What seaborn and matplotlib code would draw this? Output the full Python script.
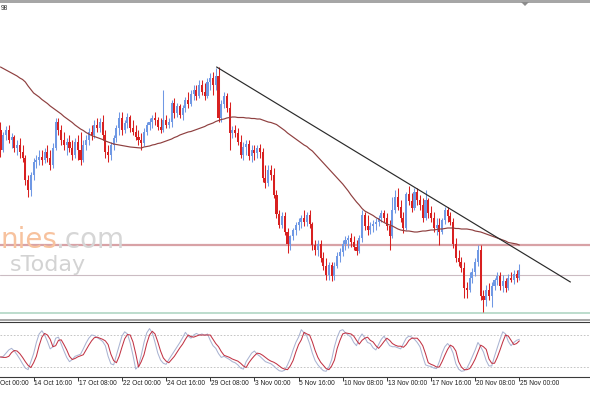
import numpy as np
import pandas as pd
import seaborn as sns
import matplotlib
matplotlib.use("Agg")
import matplotlib.pyplot as plt
from matplotlib.patches import Rectangle, Polygon
from matplotlib.transforms import blended_transform_factory

# ---------------- data (H4 candles, arbitrary price points) ----------------
opens = [200,180,195,200,190,193,182,185,178,172,
         150,140,155,168,170,173,170,178,172,165,
         182,208,200,190,185,188,182,175,188,180,
         170,185,190,198,195,205,202,208,195,178,
         175,185,192,202,212,200,207,213,202,198,
         193,190,187,198,205,208,212,210,203,200,
         210,205,208,227,217,224,215,222,230,226,
         236,240,234,245,238,234,248,252,245,254,
         212,226,234,222,197,200,197,188,175,183,
         186,174,180,177,182,178,152,147,160,155,
         135,116,105,114,98,86,94,100,105,108,
         112,108,115,106,85,80,86,72,64,55,
         65,54,64,74,78,86,90,92,88,83,
         79,92,115,104,100,104,106,108,112,117,
         112,104,94,120,133,123,112,102,136,129,
         122,138,130,125,112,130,117,112,102,105,
         98,110,120,114,108,86,72,68,62,42,
         40,52,58,68,80,34,30,40,34,44,
         50,54,44,49,42,52,50,56,52]
highs = [208,198,204,205,197,195,190,192,185,175,
         155,158,172,175,180,180,182,185,180,187,
         212,212,205,198,192,195,190,192,195,198,
         190,195,202,205,210,212,212,215,200,185,
         188,195,205,218,218,210,217,215,210,205,
         200,197,202,208,212,215,218,213,212,240,
         215,212,230,232,227,226,225,233,238,240,
         245,245,250,250,247,252,257,258,262,263,
         230,238,237,228,204,205,202,195,188,190,
         190,185,185,185,186,182,165,165,165,162,
         140,120,118,118,102,95,102,108,112,115,
         120,118,120,108,90,90,90,78,72,68,
         68,68,78,82,90,94,95,97,94,90,
         95,120,118,115,108,110,112,115,120,120,
         117,110,133,140,142,130,118,138,144,137,
         142,142,135,132,140,132,124,118,112,112,
         112,123,123,118,112,92,80,73,68,48,
         58,62,72,85,85,40,45,47,48,52,
         58,58,55,52,56,58,60,60,66]
lows = [173,178,190,187,182,178,175,172,168,145,
        133,134,150,162,165,165,167,168,160,162,
        180,195,185,180,175,178,170,172,170,165,
        168,180,185,190,192,198,198,190,172,168,
        170,180,188,195,195,197,202,198,195,190,
        185,180,184,195,200,202,205,200,197,198,
        202,202,203,212,213,212,210,218,222,224,
        230,230,232,235,230,232,240,235,240,208,
        208,222,218,180,192,193,185,172,170,175,
        170,168,170,172,172,148,142,144,150,132,
        112,102,102,95,77,80,90,95,100,102,
        104,104,102,80,75,74,68,60,50,50,
        49,50,62,68,74,80,82,83,80,75,
        77,88,100,95,96,98,100,104,108,108,
        100,80,92,117,120,108,97,100,125,118,
        120,125,120,108,110,112,108,98,95,85,
        96,106,108,105,82,68,64,58,32,32,
        38,47,54,64,30,18,24,30,23,40,
        45,40,38,38,40,48,46,48,50]
closes = [180,195,200,190,193,182,185,178,172,150,
          140,155,168,170,173,170,178,172,165,182,
          208,200,190,185,188,182,175,188,180,170,
          185,190,198,195,205,202,208,195,178,175,
          185,192,202,212,200,207,213,202,198,193,
          190,187,198,205,208,212,210,203,200,210,
          205,208,227,217,224,215,222,230,226,236,
          240,234,245,238,234,248,252,245,254,212,
          226,234,222,197,200,197,188,175,183,186,
          174,180,177,182,178,152,147,160,155,135,
          116,105,114,98,86,94,100,105,108,112,
          108,115,106,85,80,86,72,64,55,65,
          54,64,74,78,86,90,92,88,83,79,
          92,115,104,100,104,106,108,112,117,112,
          104,94,120,133,123,112,102,136,129,122,
          138,130,125,112,130,117,112,102,105,98,
          110,120,114,108,86,72,68,62,42,40,
          52,58,68,80,34,30,40,34,44,50,
          54,44,49,42,52,50,56,52,60]
moving_avg = [263,261.5,260,258.5,257,255.5,254,252,250.5,248,
              244,240.5,237,235,233,230.5,228.5,226.5,224,222,
              220,218,216,213.5,211.5,209.5,207.5,205,203,201,
              199.5,197.5,196,194.5,193.5,192.5,191.5,190.5,189,188,
              187,186,185.5,185,184.5,184,183.5,183,182.7,182.5,
              182.2,182,183,183.5,184,185,185.5,186.5,187,188,
              189,190,191,192.5,193.5,195,196,197,198,198.5,
              199.5,200.5,201.5,202.5,203.5,205,206,207,208.5,209.5,
              210.5,211,212,212.5,213,213,212.5,212.5,212.5,212,
              212,211.5,211.5,211,211,210,209,208,207.5,206.5,
              205.5,203.5,201.5,199.5,197,195,193,191,189,187,
              185,183.5,181,179,176,173,170,167,164,161,
              158,155,152,149,146,142.5,139,135,131.5,128,
              125,121.5,119,117.5,116,114.5,112.5,111,109,107.5,
              106,105,104,102.5,101,100,99.5,99,99,98.5,
              98,98,98.5,99,99,99.5,100,100,100.5,101,
              101,101.5,102,102,102,101.5,101.5,101,101,101,
              100.5,100,99,98.5,98,97,96,95,94,93,
              92,91,90,89,87.5,87,86.5,86,85]
stoch_d = [39,38,38,40,47,51,50,45,38,30,
           23,19,28,40,60,76,83,80,72,58,
           60,70,71,62,52,40,34,36,39,41,
           43,52,61,69,75,76,74,72,69,62,
           44,32,28,40,57,73,81,80,67,45,
           20,30,43,64,80,87,82,67,50,37,
           31,28,34,40,48,56,63,72,80,77,
           76,78,80,80,80,80,80,72,64,58,
           49,42,40,38,35,33,31,27,22,19,
           28,35,41,46,45,42,38,34,31,29,
           26,22,18,16,15,22,32,48,62,71,
           85,82,80,67,51,38,29,23,17,15,
           22,33,55,70,82,84,83,82,78,70,
           63,70,74,76,70,67,60,55,61,68,
           74,70,64,61,59,59,57,62,70,74,
           74,74,68,60,45,28,25,23,20,20,
           30,42,53,61,58,50,30,20,15,15,
           17,25,35,48,61,58,53,35,27,27,
           38,52,67,80,78,70,62,64,69]
stoch_k = [38,40,46,52,55,50,43,35,26,18,
           15,30,45,66,82,88,80,68,54,58,
           74,76,63,50,38,30,34,40,42,44,
           54,65,74,80,79,75,72,68,60,40,
           26,24,42,60,78,86,82,65,42,16,
           22,42,66,84,92,84,66,46,33,27,
           25,34,42,50,58,66,75,85,78,74,
           80,83,80,82,79,82,70,60,55,45,
           38,40,37,34,30,28,24,18,16,30,
           38,46,50,44,40,35,30,28,26,22,
           17,13,12,14,24,36,52,66,76,90,
           84,78,64,46,32,24,18,13,12,20,
           34,58,76,88,90,84,80,76,66,60,
           74,82,75,66,64,56,52,62,72,78,
           68,60,58,58,56,54,64,74,78,76,
           72,66,58,40,24,22,21,18,17,30,
           46,58,64,58,46,26,16,12,13,18,
           28,40,52,66,58,48,32,22,22,40,
           56,72,86,82,68,60,66,70,72]
trend_bars = [78.3, 206.5]
trend_prices = [263, 48]
resistance_level = 85
mid_level = 55
support_level = 17
stoch_levels = [80, 20]
tick_bars = [12, 28, 44, 60, 76, 92, 108, 124, 140, 156, 172, 188]
tick_labels = ["14 Oct 16:00", "17 Oct 08:00", "22 Oct 00:00",
               "24 Oct 16:00", "29 Oct 08:00", "3 Nov 00:00", "5 Nov 16:00",
               "10 Nov 08:00", "13 Nov 00:00", "17 Nov 16:00", "20 Nov 08:00",
               "25 Nov 00:00"]
first_label = "Oct 00:00"   # partially visible first date label

# ---------------- styling ----------------
sns.set_theme(style="white")
plt.rcParams["font.family"] = ["Liberation Sans", "DejaVu Sans"]

BLUE = "#6f98e4"
RED = "#d82020"
W, H = 590, 393

fig = plt.figure(figsize=(W / 100, H / 100), dpi=100)
fig.patch.set_facecolor("white")

def fy(y):
    return 1 - y / H

XLIM = (-0.18, 213.6)

# main price panel (y 3 .. 318 px)
ax = fig.add_axes([0, fy(318), 1, (318 - 3) / H])
ax.set_facecolor("white")
ax.set_xlim(*XLIM)
ax.set_ylim(12, 327)
for s in ax.spines.values():
    s.set_visible(False)
ax.set_xticks([])
ax.set_yticks([])

df = pd.DataFrame({"bar": np.arange(len(closes)), "open": opens, "high": highs,
                   "low": lows, "close": closes, "ma": moving_avg,
                   "k": stoch_k, "d": stoch_d})
up = df["close"] >= df["open"]
cols = np.where(up, BLUE, RED)

# horizontal levels
ax.axhline(resistance_level, color="#d8a2a6", lw=1.6, zorder=1)
ax.axhline(mid_level, color="#cbbcc3", lw=0.8, zorder=1)
ax.axhline(support_level, color="#b7dac9", lw=1.3, zorder=1)

# candles
ax.vlines(df["bar"], df["low"], df["high"], colors=cols, lw=0.75, zorder=3)
body = df["close"] - df["open"]
body = np.where(np.abs(body) < 1, 1, body)
ax.bar(df["bar"], body, bottom=df["open"], width=0.75, color=cols,
       linewidth=0, zorder=4)

# moving average and trend line
sns.lineplot(x=df["bar"], y=df["ma"], ax=ax, color="#8e3f3f", lw=0.85, zorder=5)
sns.lineplot(x=trend_bars, y=trend_prices, ax=ax, color="#2a2a2a", lw=0.85, zorder=5)
ax.set_xlabel("")
ax.set_ylabel("")

# watermark
fig.text(0.5 / W, fy(248), "nies", ha="left", va="baseline", fontsize=20,
         color="#f7c29e", family="DejaVu Sans", zorder=10)
fig.text(56 / W, fy(248), ".com", ha="left", va="baseline", fontsize=20,
         color="#d6d6d6", family="DejaVu Sans", zorder=10)
fig.text(10 / W, fy(271), "sToday", ha="left", va="baseline", fontsize=16,
         color="#d3d3d3", family="DejaVu Sans", zorder=10)

# header fragment and top frame
fig.text(0.5 / W, fy(8), "98", ha="left", va="center", fontsize=4.8, color="#303030")
fig.add_artist(Rectangle((0, fy(2.5)), 1, 2.5 / H, transform=fig.transFigure,
                         color="#a6a6a6", lw=0))
fig.add_artist(Polygon([(521 / W, fy(2)), (529 / W, fy(2)), (525 / W, fy(6))],
                       closed=True, transform=fig.transFigure, color="#8c8c8c", lw=0))
# separator between panels
fig.add_artist(Rectangle((0, fy(321)), 1, 2.5 / H, transform=fig.transFigure,
                         color="#a8a8a8", lw=0))

# stochastic panel (y 322 .. 377 px)
ax2 = fig.add_axes([0, fy(377), 1, (377 - 322) / H])
ax2.set_facecolor("white")
ax2.set_xlim(*XLIM)
ax2.set_ylim(1.25, 104.4)
for name, s in ax2.spines.items():
    if name in ("top", "bottom"):
        s.set_visible(True)
        s.set_color("#3a3a3a")
        s.set_linewidth(0.8)
    else:
        s.set_visible(False)
for lv in stoch_levels:
    ax2.axhline(lv, color="#bcbcbc", lw=0.6, ls=(0, (2, 2)), zorder=1)
sns.lineplot(x=df["bar"], y=df["k"], ax=ax2, color="#aab4d2", lw=0.75, zorder=3)
sns.lineplot(x=df["bar"], y=df["d"], ax=ax2, color="#c23445", lw=0.75, zorder=4)
ax2.set_xlabel("")
ax2.set_ylabel("")
ax2.set_yticks([])
ax2.set_xticks(tick_bars)
ax2.tick_params(axis="x", direction="out", length=3, width=0.7, color="#3a3a3a",
                labelbottom=False, bottom=True)
trans = blended_transform_factory(ax2.transData, ax2.transAxes)
ax2.text(0.0, -0.11, first_label, transform=trans, ha="left", va="center",
         fontsize=4.8, color="#202020", clip_on=False)
for b, lab in zip(tick_bars, tick_labels):
    ax2.text(b + 0.3, -0.11, lab, transform=trans, ha="left", va="center",
             fontsize=4.8, color="#202020", clip_on=False)

fig.savefig("out.png", dpi=100, facecolor="white")
